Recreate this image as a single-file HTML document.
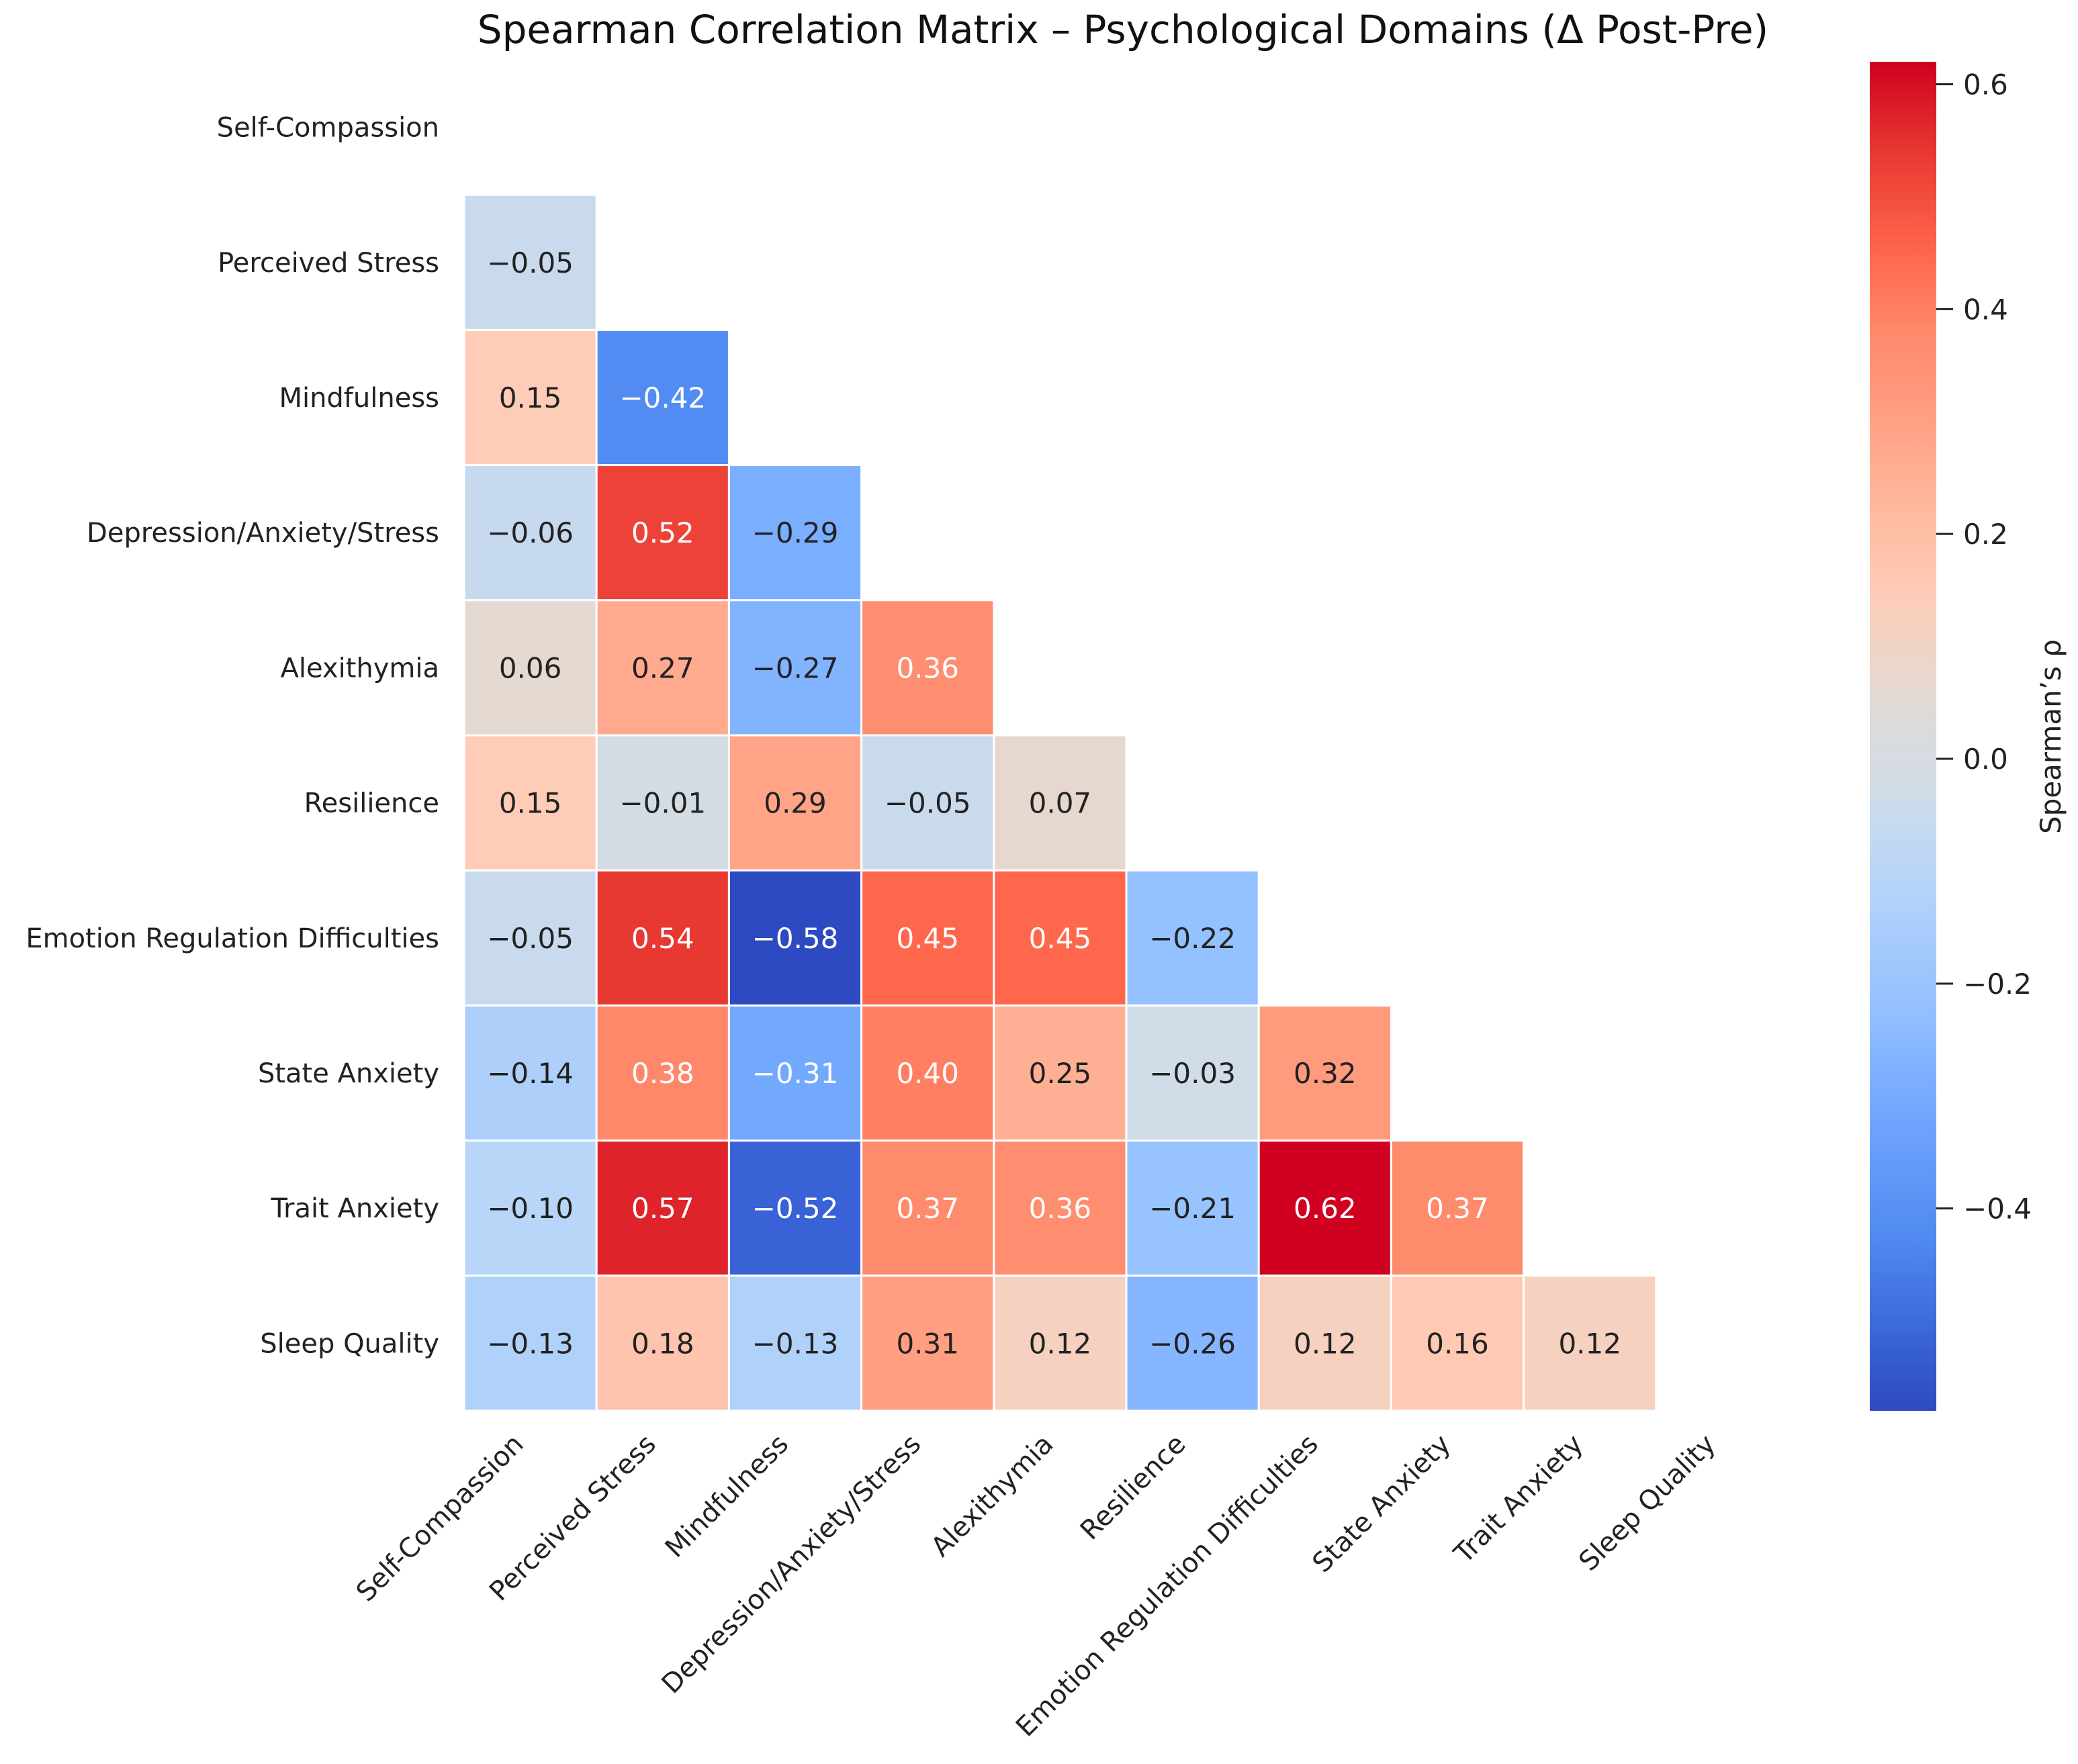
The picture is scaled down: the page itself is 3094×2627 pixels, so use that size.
<!DOCTYPE html>
<html><head><meta charset="utf-8"><style>
html,body{margin:0;padding:0;background:#fff;}
svg{display:block;font-family:"DejaVu Sans","Liberation Sans",sans-serif;}
</style></head><body>
<svg id="chart" width="3094" height="2627" viewBox="0 0 3094 2627" xmlns="http://www.w3.org/2000/svg">
<defs><linearGradient id="cbgrad" x1="0" y1="1" x2="0" y2="0"></linearGradient></defs>
<text x="1672" y="64" font-size="58" text-anchor="middle" fill="#111">Spearman Correlation Matrix – Psychological Domains (Δ Post-Pre)</text>
<g id="cells"></g>
<g id="ylabels"></g>
<g id="xlabels"></g>
<g id="cbar"></g>
</svg>
<script>
const categories = ["Self-Compassion","Perceived Stress","Mindfulness","Depression/Anxiety/Stress","Alexithymia","Resilience","Emotion Regulation Difficulties","State Anxiety","Trait Anxiety","Sleep Quality"];
const row1 = [-0.05];
const row2 = [0.15,-0.42];
const row3 = [-0.06,0.52,-0.29];
const row4 = [0.06,0.27,-0.27,0.36];
const row5 = [0.15,-0.01,0.29,-0.05,0.07];
const row6 = [-0.05,0.54,-0.58,0.45,0.45,-0.22];
const row7 = [-0.14,0.38,-0.31,0.40,0.25,-0.03,0.32];
const row8 = [-0.10,0.57,-0.52,0.37,0.36,-0.21,0.62,0.37];
const row9 = [-0.13,0.18,-0.13,0.31,0.12,-0.26,0.12,0.16,0.12];
const lowerRows = [[],row1,row2,row3,row4,row5,row6,row7,row8,row9];
const colorbarTicks = [0.6,0.4,0.2,0.0,-0.2,-0.4];
const vmin = -0.58, vmax = 0.62;

const NS="http://www.w3.org/2000/svg";
const gx0=691, gy0=89, cw=197.2, ch=201.2;
const xPos = i => gx0 + i*cw;
const yPos = i => gy0 + i*ch;
// colour ramp (value-keyed, sampled from reference)
const rampV=[-0.58,-0.52,-0.42,-0.31,-0.22,-0.10,-0.03,0.06,0.15,0.25,0.38,0.45,0.54,0.62];
const rampC=[[46,74,194],[56,98,214],[82,140,242],[115,168,255],[148,193,255],[185,214,248],[208,220,232],[228,218,210],[255,204,183],[255,176,148],[255,136,106],[255,103,77],[232,56,50],[208,0,32]];
function cmapV(v){
  if(v<=rampV[0])return rampC[0];
  for(let i=0;i<rampV.length-1;i++){if(v<=rampV[i+1]){const f=(v-rampV[i])/(rampV[i+1]-rampV[i]);const a=rampC[i],b=rampC[i+1];return [0,1,2].map(k=>Math.round(a[k]+(b[k]-a[k])*f));}}
  return rampC[rampC.length-1];
}
function el(tag,attrs,parent){const e=document.createElementNS(NS,tag);for(const k in attrs)e.setAttribute(k,attrs[k]);parent.appendChild(e);return e;}
const fmt = v => (v<0?"\u2212":"")+Math.abs(v).toFixed(2);
const textCol = v => (v>=0.335||v<=-0.30)?'#fff':'#222';

const cells=document.getElementById('cells');
lowerRows.forEach((row,r)=>{row.forEach((v,c)=>{
  const col=cmapV(v);
  const rect=el('rect',{x:xPos(c),y:yPos(r),width:cw,height:ch,fill:`rgb(${col})`,stroke:'#fff','stroke-width':3},cells);
  
  
  const t=el('text',{x:xPos(c)+cw/2,y:yPos(r)+ch/2+15,'font-size':42,'text-anchor':'middle',fill:textCol(v)},cells);
  t.textContent=fmt(v);
  
  
});});

const yl=document.getElementById('ylabels');
categories.forEach((name,i)=>{
  const t=el('text',{x:654,y:yPos(i)+ch/2+14,'font-size':40,'text-anchor':'end',fill:'#222'},yl);
  t.textContent=name;
  
  
});
const xl=document.getElementById('xlabels');
categories.forEach((name,i)=>{
  const ax=xPos(i)+cw/2-8, ay=gy0+10*ch+52;
  const t=el('text',{x:ax,y:ay,'font-size':40,'text-anchor':'end',fill:'#222',transform:`rotate(-45 ${ax} ${ay})`},xl);
  t.textContent=name;
  
  
});

// colorbar
const cb=document.getElementById('cbar');
const cbx=2784, cbw=99, cbTop=92, cbBot=2101;
const grad=document.getElementById('cbgrad');
for(let k=0;k<=40;k++){const v=vmin+(vmax-vmin)*k/40;const c=cmapV(v);el('stop',{offset:(k/40*100)+'%','stop-color':`rgb(${c})`},grad);}
const cbr=el('rect',{x:cbx,y:cbTop,width:cbw,height:cbBot-cbTop,fill:'url(#cbgrad)'},cb);


const cbY = v => cbBot - (v-vmin)/(vmax-vmin)*(cbBot-cbTop);
colorbarTicks.forEach(v=>{
  const y=cbY(v);
  const ln=el('line',{x1:cbx+cbw,x2:cbx+cbw+25,y1:y,y2:y,stroke:'#222','stroke-width':3},cb);
  
  
  const t=el('text',{x:cbx+cbw+40,y:y+15,'font-size':42,fill:'#222'},cb);
  t.textContent=(v<0?"\u2212":"")+Math.abs(v).toFixed(1);
  
  
});
const cl=el('text',{x:3068,y:1097,'font-size':42,'text-anchor':'middle',fill:'#222',transform:'rotate(-90 3068 1097)'},cb);
cl.textContent="Spearman’s ρ";


</script>
</body></html>
